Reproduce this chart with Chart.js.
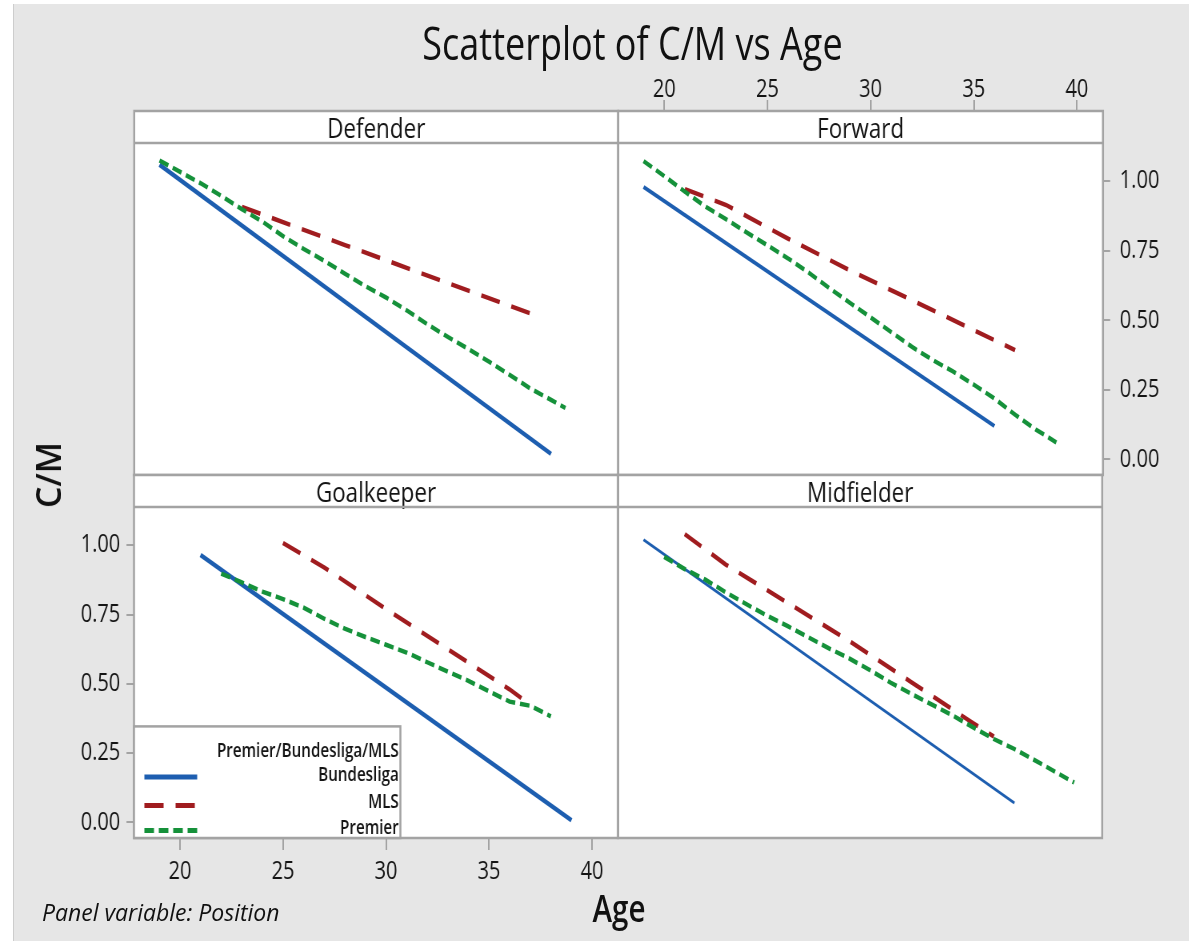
<!DOCTYPE html>
<html>
<head>
<meta charset="utf-8">
<title>Scatterplot of C/M vs Age</title>
<script src="https://cdn.jsdelivr.net/npm/chart.js@4.4.1/dist/chart.umd.min.js"></script>
<style>
    html, body { margin: 0; padding: 0; width: 1189px; height: 941px; overflow: hidden; background: #fff; font-family: "Open Sans", sans-serif; }
    #bg { position: absolute; left: 13px; top: 4px; right: 0; bottom: 0; background: #e6e6e6; border-left: 1px solid #cdcdcd; }
    #stage { position: absolute; left: 0; top: 0; width: 1486.25px; height: 941px; transform: scaleX(0.8); transform-origin: 0 0; }
    .box { position: absolute; }
    #title { position: absolute; left: 390.6px; width: 800px; top: 20px; text-align: center; font-size: 45px; line-height: 45px; font-weight: 500; color: #111; white-space: nowrap; }
    #xlabel { position: absolute; left: 673.75px; width: 200px; top: 889px; text-align: center; font-size: 37px; line-height: 37px; font-weight: 600; color: #111; }
    #ylabel { position: absolute; left: 47.5px; top: 475px; font-size: 34px; line-height: 34px; font-weight: 600; color: #111; transform: translate(-50%, -50%) rotate(-90deg); white-space: nowrap; }
    #panelvar { position: absolute; left: 42px; top: 901px; font-size: 23px; line-height: 23px; font-style: italic; color: #111; white-space: nowrap; }
</style>
</head>
<body>
<div id="bg"></div>
<div id="stage">
    <div id="title">Scatterplot of C/M vs Age</div>
    <div class="box" id="boxDefender"><canvas id="cDefender"></canvas></div>
    <div class="box" id="boxForward"><canvas id="cForward"></canvas></div>
    <div class="box" id="boxGoalkeeper"><canvas id="cGoalkeeper"></canvas></div>
    <div class="box" id="boxMidfielder"><canvas id="cMidfielder"></canvas></div>
    <div id="xlabel">Age</div>
</div>
<div id="ylabel">C/M</div>
<div id="panelvar">Panel variable: Position</div>

<script>
// ---- data ----
const ageTicks = [20, 25, 30, 35, 40];
const cmTicks = [0, 0.25, 0.5, 0.75, 1.0];
const leagues = ['Bundesliga', 'MLS', 'Premier'];
const legendTitle = 'Premier/Bundesliga/MLS';

// Defender
const defBundAge = [19, 38];
const defBundCM = [1.06, 0.02];
const defMlsAge = [23, 28, 33, 37];
const defMlsCM = [0.908, 0.771, 0.634, 0.525];
const defPremAge = [19, 20, 21, 22, 23, 24, 25, 26, 27, 28, 29, 30, 31, 32, 33, 34, 35, 36, 37, 38, 38.7];
const defPremCM = [1.075, 1.034, 0.993, 0.948, 0.900, 0.855, 0.803, 0.757, 0.714, 0.668, 0.623, 0.582, 0.536, 0.486, 0.440, 0.397, 0.351, 0.304, 0.255, 0.214, 0.185];

// Forward
const fwdBundAge = [19, 36];
const fwdBundCM = [0.98, 0.12];
const fwdMlsAge = [21, 23, 26, 29, 33, 37];
const fwdMlsCM = [0.972, 0.915, 0.794, 0.68, 0.537, 0.393];
const fwdPremAge = [19, 20, 21, 22, 23, 24, 25, 26, 27, 28, 29, 30, 31, 32, 33, 34, 35, 36, 37, 38, 39];
const fwdPremCM = [1.073, 1.019, 0.963, 0.909, 0.864, 0.816, 0.770, 0.723, 0.672, 0.616, 0.563, 0.511, 0.458, 0.405, 0.358, 0.316, 0.269, 0.219, 0.161, 0.108, 0.061];

// Goalkeeper
const gkBundAge = [21, 39];
const gkBundCM = [0.965, 0.008];
const gkMlsAge = [25, 27, 30, 33, 36, 37];
const gkMlsCM = [1.008, 0.92, 0.77, 0.625, 0.48, 0.425];
const gkPremAge = [22, 23, 24, 25, 26, 27, 28, 29, 30, 31, 32, 33, 34, 35, 36, 37, 38];
const gkPremCM = [0.898, 0.866, 0.833, 0.806, 0.775, 0.735, 0.699, 0.669, 0.641, 0.613, 0.578, 0.544, 0.511, 0.473, 0.436, 0.421, 0.383];

// Midfielder
const midBundAge = [19, 37];
const midBundCM = [1.02, 0.07];
const midMlsAge = [21, 23, 26, 29, 32, 35, 36];
const midMlsCM = [1.04, 0.93, 0.792, 0.654, 0.506, 0.358, 0.31];
const midPremAge = [20, 21, 22, 23, 24, 25, 26, 27, 28, 29, 30, 31, 32, 33, 34, 35, 36, 37, 38, 39, 39.9];
const midPremCM = [0.958, 0.914, 0.876, 0.830, 0.787, 0.746, 0.708, 0.668, 0.628, 0.591, 0.549, 0.504, 0.464, 0.425, 0.386, 0.343, 0.301, 0.265, 0.224, 0.182, 0.144];

// ---- look ----
const S = 0.8;          // horizontal squeeze of the stage
const STRIP = 32;       // panel header height
const PAD = 3;
const FRAME = '#a3a3a3';
const INK = '#141414';
const BLUE = '#1d5eb0';
const RED = '#a01c1f';
const GREEN = '#15913a';
const FONT = '"Open Sans", sans-serif';
const ageMin = 17.77, ageMax = 41.26;
const cmMin = -0.056, cmMax = 1.138;

const zip = (xs, ys) => xs.map((x, i) => ({ x: x, y: ys[i] }));

function datasets(bA, bC, mA, mC, pA, pC, blueWidth) {
    return [
        { label: leagues[0], data: zip(bA, bC), borderColor: BLUE, borderWidth: blueWidth, order: 3 },
        { label: leagues[1], data: zip(mA, mC), borderColor: RED, borderWidth: 4.5, borderDash: [24, 15], order: 2 },
        { label: leagues[2], data: zip(pA, pC), borderColor: GREEN, borderWidth: 4.5, borderDash: [12, 6], order: 1 }
    ];
}

// white panel, header strip, frame
const panelFrame = {
    id: 'panelFrame',
    beforeDraw(chart) {
        const { ctx, chartArea: a } = chart;
        ctx.save();
        ctx.fillStyle = '#fff';
        ctx.fillRect(a.left, a.top - STRIP, a.right - a.left, a.bottom - a.top + STRIP);
        ctx.restore();
    },
    afterDraw(chart) {
        const { ctx, chartArea: a } = chart;
        const name = chart.options.plugins.panelFrame.name;
        ctx.save();
        ctx.fillStyle = '#fff';
        ctx.fillRect(a.left, a.top - STRIP, a.right - a.left, STRIP);
        ctx.fillStyle = INK;
        ctx.font = '500 28px ' + FONT;
        ctx.textAlign = 'center';
        ctx.textBaseline = 'alphabetic';
        ctx.fillText(name, (a.left + a.right) / 2, a.top - STRIP + 27);
        ctx.strokeStyle = FRAME;
        ctx.lineWidth = 2.5;
        ctx.strokeRect(a.left, a.top - STRIP, a.right - a.left, a.bottom - a.top + STRIP);
        ctx.beginPath();
        ctx.moveTo(a.left, a.top);
        ctx.lineTo(a.right, a.top);
        ctx.stroke();
        ctx.restore();
    }
};

// legend inside the Goalkeeper panel
const legendBox = {
    id: 'legendBox',
    afterDraw(chart) {
        const { ctx, chartArea: a } = chart;
        const w = 333, h = 111.6;
        const l = a.left, t = a.bottom - h;
        const textY = [49.3, 76.3, 102.3];
        const lineY = [50.6, 79, 104];
        ctx.save();
        ctx.fillStyle = '#fff';
        ctx.fillRect(l, t, w, h);
        ctx.strokeStyle = FRAME;
        ctx.lineWidth = 2.5;
        ctx.strokeRect(l, t, w, h);
        ctx.fillStyle = INK;
        ctx.font = '600 19px ' + FONT;
        ctx.textAlign = 'right';
        ctx.textBaseline = 'middle';
        ctx.fillText(legendTitle, l + w - 2, t + 25);
        chart.data.datasets.forEach((ds, i) => {
            ctx.fillStyle = INK;
            ctx.fillText(ds.label, l + w - 2, t + textY[i]);
            ctx.beginPath();
            ctx.setLineDash(ds.borderDash || []);
            ctx.strokeStyle = ds.borderColor;
            ctx.lineWidth = 5;
            ctx.moveTo(l + 13, t + lineY[i]);
            ctx.lineTo(l + 79, t + lineY[i]);
            ctx.stroke();
        });
        ctx.restore();
    }
};

function setTicks(list) {
    return scale => { scale.ticks = list.map(v => ({ value: v })); };
}

function xAxis(position, tickLength, padding, height) {
    if (!position) return { type: 'linear', display: false, min: ageMin, max: ageMax };
    return {
        type: 'linear', position: position, min: ageMin, max: ageMax,
        grid: { drawOnChartArea: false, drawTicks: true, tickLength: tickLength, color: FRAME, lineWidth: 2 },
        border: { display: false },
        ticks: { color: INK, font: { family: FONT, size: 25 }, padding: padding, maxRotation: 0, autoSkip: false },
        afterBuildTicks: setTicks(ageTicks),
        afterFit: s => { s.height = height; s.paddingLeft = 0; s.paddingRight = 0; }
    };
}

function yAxis(position, tickLength, padding, width) {
    if (!position) return { type: 'linear', display: false, min: cmMin, max: cmMax };
    return {
        type: 'linear', position: position, min: cmMin, max: cmMax,
        grid: { drawOnChartArea: false, drawTicks: true, tickLength: tickLength, color: FRAME, lineWidth: 2 },
        border: { display: false },
        ticks: { color: INK, font: { family: FONT, size: 25 }, padding: padding, autoSkip: false, callback: v => v.toFixed(2) },
        afterBuildTicks: setTicks(cmTicks),
        afterFit: s => { s.width = width; s.paddingTop = 0; s.paddingBottom = 0; }
    };
}

// box = canvas rectangle in screen pixels
function makePanel(name, box, sets, x, y, padding, extraPlugins) {
    const div = document.getElementById('box' + name);
    div.style.left = (box[0] / S) + 'px';
    div.style.top = box[1] + 'px';
    div.style.width = ((box[2] - box[0]) / S) + 'px';
    div.style.height = (box[3] - box[1]) + 'px';
    return new Chart(document.getElementById('c' + name), {
        type: 'line',
        data: { datasets: sets },
        options: {
            responsive: true,
            maintainAspectRatio: false,
            animation: false,
            layout: { padding: padding },
            elements: { point: { radius: 0 }, line: { tension: 0, borderCapStyle: 'butt' } },
            scales: { x: x, y: y },
            plugins: { legend: { display: false }, tooltip: { enabled: false }, panelFrame: { name: name } }
        },
        plugins: [panelFrame].concat(extraPlugins || [])
    });
}

const hp = PAD / S;

makePanel('Defender', [131, 108, 621, 478],
    datasets(defBundAge, defBundCM, defMlsAge, defMlsCM, defPremAge, defPremCM, 4.5),
    xAxis(null), yAxis(null),
    { left: hp, right: hp, top: STRIP + PAD, bottom: PAD });

makePanel('Forward', [615, 70, 1170, 478],
    datasets(fwdBundAge, fwdBundCM, fwdMlsAge, fwdMlsCM, fwdPremAge, fwdPremCM, 4),
    xAxis('top', 43, -5, 73), yAxis('right', 9, 12, (1170 - 1102) / S),
    { left: hp, right: 0, top: 0, bottom: PAD });

makePanel('Goalkeeper', [20, 472, 621, 895],
    datasets(gkBundAge, gkBundCM, gkMlsAge, gkMlsCM, gkPremAge, gkPremCM, 4.5),
    xAxis('bottom', 12, 7, 57), yAxis('left', 9.4, 7.7, (134 - 20) / S),
    { left: 0, right: hp, top: STRIP + PAD, bottom: 0 }, [legendBox]);

makePanel('Midfielder', [615, 472, 1105, 841],
    datasets(midBundAge, midBundCM, midMlsAge, midMlsCM, midPremAge, midPremCM, 3),
    xAxis(null), yAxis(null),
    { left: hp, right: hp, top: STRIP + PAD, bottom: PAD });
</script>
</body>
</html>
